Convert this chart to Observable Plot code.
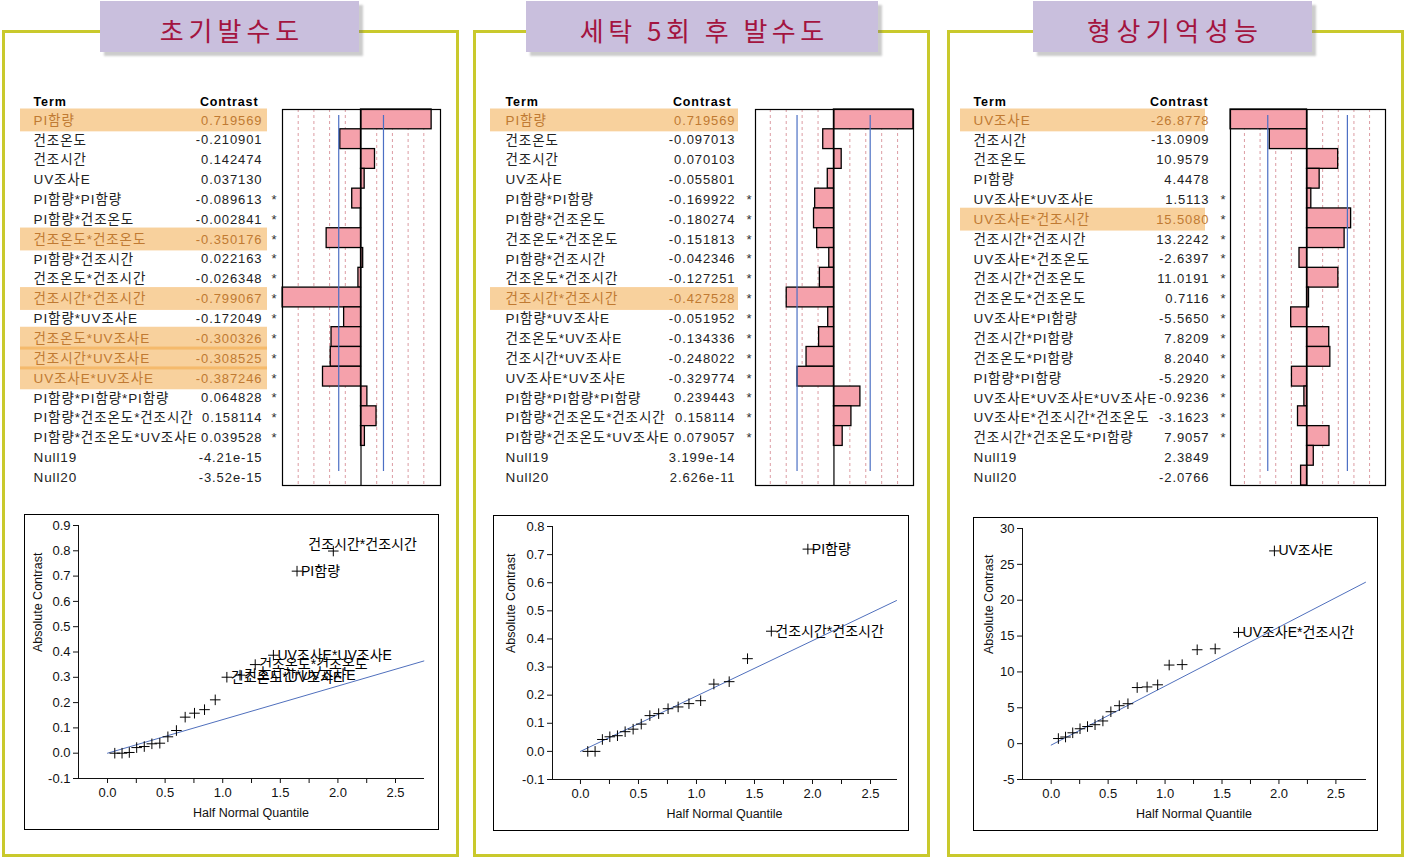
<!DOCTYPE html>
<html><head><meta charset="utf-8">
<script src="https://cdn.jsdelivr.net/npm/d3@7"></script>
<script src="https://cdn.jsdelivr.net/npm/@observablehq/plot@0.6"></script>
<style>
body{margin:0;background:#fff;}
#root{position:relative;width:1404px;height:859px;overflow:hidden;font-family:'Liberation Sans','Noto Sans CJK KR',sans-serif;}
.panel{position:absolute;top:30px;width:457px;height:827px;border:3px solid #c9c92c;box-sizing:border-box;}
.title{position:absolute;top:1px;height:51px;box-sizing:border-box;padding-top:6px;background:#c9bfdd;box-shadow:4px 4px 2px rgba(110,110,110,0.35);display:flex;align-items:center;justify-content:center;color:#a3143f;font-family:'Noto Sans CJK KR',sans-serif;font-size:26px;}
.box{position:absolute;border:1px solid #000;background:#fff;}
</style></head><body><div id="root"></div>
<script>
// ---------------- DATA ----------------
const titles = ["초기발수도", "세탁 5회 후 발수도", "형상기억성능"];

const terms1 = ["PI함량","건조온도","건조시간","UV조사E","PI함량*PI함량","PI함량*건조온도","건조온도*건조온도","PI함량*건조시간","건조온도*건조시간","건조시간*건조시간","PI함량*UV조사E","건조온도*UV조사E","건조시간*UV조사E","UV조사E*UV조사E","PI함량*PI함량*PI함량","PI함량*건조온도*건조시간","PI함량*건조온도*UV조사E","Null19","Null20"];
const contrasts1 = ["0.719569","-0.210901","0.142474","0.037130","-0.089613","-0.002841","-0.350176","0.022163","-0.026348","-0.799067","-0.172049","-0.300326","-0.308525","-0.387246","0.064828","0.158114","0.039528","-4.21e-15","-3.52e-15"];
const highlight1 = ["PI함량","건조온도*건조온도","건조시간*건조시간","건조온도*UV조사E","건조시간*UV조사E","UV조사E*UV조사E"];

const terms2 = ["PI함량","건조온도","건조시간","UV조사E","PI함량*PI함량","PI함량*건조온도","건조온도*건조온도","PI함량*건조시간","건조온도*건조시간","건조시간*건조시간","PI함량*UV조사E","건조온도*UV조사E","건조시간*UV조사E","UV조사E*UV조사E","PI함량*PI함량*PI함량","PI함량*건조온도*건조시간","PI함량*건조온도*UV조사E","Null19","Null20"];
const contrasts2 = ["0.719569","-0.097013","0.070103","-0.055801","-0.169922","-0.180274","-0.151813","-0.042346","-0.127251","-0.427528","-0.051952","-0.134336","-0.248022","-0.329774","0.239443","0.158114","0.079057","3.199e-14","2.626e-11"];
const highlight2 = ["PI함량","건조시간*건조시간"];

const terms3 = ["UV조사E","건조시간","건조온도","PI함량","UV조사E*UV조사E","UV조사E*건조시간","건조시간*건조시간","UV조사E*건조온도","건조시간*건조온도","건조온도*건조온도","UV조사E*PI함량","건조시간*PI함량","건조온도*PI함량","PI함량*PI함량","UV조사E*UV조사E*UV조사E","UV조사E*건조시간*건조온도","건조시간*건조온도*PI함량","Null19","Null20"];
const contrasts3 = ["-26.8778","-13.0909","10.9579","4.4478","1.5113","15.5080","13.2242","-2.6397","11.0191","0.7116","-5.5650","7.8209","8.2040","-5.2920","-0.9236","-3.1623","7.9057","2.3849","-2.0766"];
const highlight3 = ["UV조사E","UV조사E*건조시간"];

// bar chart reference lines
const barDomain1 = [-0.80, 0.81], barDomain2 = [-0.71, 0.72], barDomain3 = [-26.9, 27.6];
const dashLines1 = [-0.64,-0.48,-0.32,-0.16,0.16,0.32,0.48,0.64];
const dashLines2 = [-0.576,-0.432,-0.288,-0.144,0.144,0.288,0.432,0.576];
const dashLines3 = [-22,-16.5,-11,-5.5,5.5,11,16.5,22];
const blueLines1 = [-0.227, 0.229], blueLines2 = [-0.334, 0.328], blueLines3 = [-13.8, 14.2];

// half-normal plot
const halfNormalQ = [0.063,0.126,0.189,0.253,0.319,0.385,0.454,0.524,0.598,0.674,0.755,0.842,0.935,1.036,1.150,1.282,1.440,1.645,1.960];
const fitLine1 = [[0,0],[2.746,0.3645]];
const fitLine2 = [[0,0],[2.724,0.5365]];
const fitLine3 = [[0,-0.2],[2.76,22.5]];
const xTicks = [0,0.25,0.5,0.75,1,1.25,1.5,1.75,2,2.25,2.5];
const yTicks1 = [-0.1,0,0.1,0.2,0.3,0.4,0.5,0.6,0.7,0.8,0.9];
const yTicks2 = [-0.1,0,0.1,0.2,0.3,0.4,0.5,0.6,0.7,0.8];
const yTicks3 = [-5,0,5,10,15,20,25,30];

// ---------------- LAYOUT ----------------
const FONT = "'Liberation Sans','Noto Sans CJK KR',sans-serif";
const HI_TEXT = "#c07a32";
const panels = [
  {left:2, title:{left:100,width:259,spacing:5},
   table:{left:20,hlRight:267,width:264,termDx:13,numDx:-5,starDx:7,headDx:-9},
   bar:{left:281,width:160},
   sc:{box:[24,514,415,316], mL:53,mR:15,mT:10,mB:51, xDomain:[-0.252,2.743], yLab:41},
   labelShift:{"건조시간*건조시간":[-25,-7]}},
  {left:473, title:{left:526,width:352,spacing:4.5},
   table:{left:490,hlRight:738,width:270,termDx:15,numDx:-3,starDx:11,headDx:-7},
   bar:{left:754,width:160},
   sc:{box:[493,515,416,316], mL:58,mR:12,mT:10,mB:51, xDomain:[-0.241,2.724], yLab:42},
   labelShift:{}},
  {left:947, title:{left:1033,width:279,spacing:5.5},
   table:{left:960,hlRight:1205,width:272,termDx:13,numDx:4,starDx:18,headDx:3},
   bar:{left:1229,width:157},
   sc:{box:[973,517,405,314], mL:48,mR:12,mT:10,mB:51, xDomain:[-0.252,2.76], yLab:34},
   labelShift:{}}
];

const root = document.getElementById("root");
function place(el, left, top) {
  el.style.position = "absolute";
  el.style.left = left + "px";
  el.style.top = top + "px";
  root.appendChild(el);
  return el;
}

function tablePlot(T, terms, contrasts, highlight) {
  const rows = terms.map((t,i)=>({term:t, c:contrasts[i], star:t.includes("*")?"*":"", hi:highlight.includes(t)}));
  const hi = rows.filter(d=>d.hi), lo = rows.filter(d=>!d.hi);
  const innerW = T.hlRight - T.left;
  const termOpts = {y:"term", text:"term", frameAnchor:"left", textAnchor:"start", dx:T.termDx, fontSize:13.5};
  const numOpts = {y:"term", text:"c", frameAnchor:"right", textAnchor:"end", dx:T.numDx, fontSize:13};
  return Plot.plot({
    width:T.width, height:397, marginTop:20, marginBottom:0, marginLeft:0, marginRight:T.width-innerW,
    x:{domain:[0,1], axis:null},
    y:{domain:terms, axis:null, padding:0, round:false},
    style:{background:"transparent", fontFamily:FONT, overflow:"visible", letterSpacing:"0.9px"},
    marks:[
      Plot.barX(hi, {x1:0, x2:1, y:"term", fill:"#f2a43c", fillOpacity:0.5, insetTop:-1.5, insetBottom:-1.5}),
      Plot.text(lo, {...termOpts, fill:"#222"}),
      Plot.text(hi, {...termOpts, fill:HI_TEXT}),
      Plot.text(lo, {...numOpts, fill:"#222"}),
      Plot.text(hi, {...numOpts, fill:HI_TEXT}),
      Plot.text(rows.filter(d=>d.star), {y:"term", text:"star", frameAnchor:"right", textAnchor:"middle", dx:T.starDx, fontSize:13, fill:"#333"}),
      Plot.text(["Term"], {text:d=>d, frameAnchor:"top-left", textAnchor:"start", dx:T.termDx, dy:-13, fontWeight:"bold", fontSize:12.5, fill:"#000"}),
      Plot.text(["Contrast"], {text:d=>d, frameAnchor:"top-right", textAnchor:"end", dx:T.headDx, dy:-13, fontWeight:"bold", fontSize:12.5, fill:"#000"})
    ]
  });
}

function barPlot(B, terms, contrasts, domain, dashes, blues) {
  const rows = terms.map((t,i)=>({term:t, v:+contrasts[i]}));
  return Plot.plot({
    width:B.width, height:378, margin:1,
    x:{domain, axis:null},
    y:{domain:terms, axis:null, padding:0, round:false},
    style:{background:"transparent", overflow:"visible"},
    marks:[
      Plot.ruleX(dashes, {stroke:"#dc9ca3", strokeDasharray:"3,3", strokeWidth:1}),
      Plot.barX(rows, {x1:0, x2:"v", y:"term", fill:"#f5a1ab", stroke:"#000", strokeWidth:1.3}),
      Plot.ruleX(blues, {stroke:"#4b6fc4", strokeWidth:1.2, insetTop:6, insetBottom:14}),
      Plot.ruleX([0], {stroke:"#000", strokeWidth:1.2}),
      Plot.frame({stroke:"#000", strokeWidth:1.2})
    ]
  });
}

function scatterPlot(P, terms, contrasts, highlight, yTicks, yFmt, fit) {
  const S = P.sc;
  const pts = terms.map((t,i)=>({term:t, abs:Math.abs(+contrasts[i])}))
    .sort((a,b)=>a.abs-b.abs)
    .map((d,i)=>({...d, q:halfNormalQ[i]}));
  const labeled = pts.filter(d=>highlight.includes(d.term));
  const labelMarks = labeled.map(d=>{
    const s = P.labelShift[d.term] || [4,0];
    return Plot.text([d], {x:"q", y:"abs", text:"term", textAnchor:"start", dx:s[0], dy:s[1], fontSize:14, fill:"#000", clip:true});
  });
  const svg = Plot.plot({
    width:S.box[2]-2, height:S.box[3]-2,
    marginLeft:S.mL, marginRight:S.mR, marginTop:S.mT, marginBottom:S.mB,
    style:{background:"transparent", fontFamily:FONT, fontSize:"13px", color:"#111", overflow:"visible"},
    x:{domain:S.xDomain, ticks:xTicks, tickFormat:d=>(Math.round(d*100)%50===0 ? d.toFixed(1) : ""), tickSize:5, tickPadding:4, line:true, label:null},
    y:{domain:[yTicks[0], yTicks[yTicks.length-1]], ticks:yTicks, tickFormat:yFmt, tickSize:5, tickPadding:3, line:true, label:null},
    marks:[
      Plot.line(fit, {x:d=>d[0], y:d=>d[1], stroke:"#5070bd", strokeWidth:1}),
      Plot.dot(pts, {x:"q", y:"abs", symbol:"plus", r:3.5, stroke:"#000", strokeWidth:1}),
      ...labelMarks,
      Plot.text(["Absolute Contrast"], {text:d=>d, frameAnchor:"left", dx:-S.yLab, rotate:-90, fontSize:12.5, fill:"#111"}),
      Plot.text(["Half Normal Quantile"], {text:d=>d, frameAnchor:"bottom", dy:38, fontSize:12.5, fill:"#111"})
    ]
  });
  svg.querySelectorAll("g[aria-label^='x-axis'] text, g[aria-label^='y-axis'] text").forEach(t => {
    t.style.fontSize = "13px";
    t.style.fontFamily = FONT;
  });
  const box = document.createElement("div");
  box.className = "box";
  box.style.width = (S.box[2]-2) + "px";
  box.style.height = (S.box[3]-2) + "px";
  box.appendChild(svg);
  svg.style.display = "block";
  place(box, S.box[0], S.box[1]);
}

const datasets = [
  {terms:terms1, contrasts:contrasts1, highlight:highlight1, domain:barDomain1, dashes:dashLines1, blues:blueLines1, yTicks:yTicks1, yFmt:d=>d.toFixed(1), fit:fitLine1},
  {terms:terms2, contrasts:contrasts2, highlight:highlight2, domain:barDomain2, dashes:dashLines2, blues:blueLines2, yTicks:yTicks2, yFmt:d=>d.toFixed(1), fit:fitLine2},
  {terms:terms3, contrasts:contrasts3, highlight:highlight3, domain:barDomain3, dashes:dashLines3, blues:blueLines3, yTicks:yTicks3, yFmt:d=>String(d), fit:fitLine3}
];

panels.forEach((P, k) => {
  const D = datasets[k];
  const frame = document.createElement("div");
  frame.className = "panel";
  place(frame, P.left, 30);

  const t = document.createElement("div");
  t.className = "title";
  t.style.width = P.title.width + "px";
  t.style.letterSpacing = P.title.spacing + "px";
  t.style.paddingLeft = P.title.spacing + "px";
  t.textContent = titles[k];
  place(t, P.title.left, 1);

  place(tablePlot(P.table, D.terms, D.contrasts, D.highlight), P.table.left, 90);
  place(barPlot(P.bar, D.terms, D.contrasts, D.domain, D.dashes, D.blues), P.bar.left, 108);
  scatterPlot(P, D.terms, D.contrasts, D.highlight, D.yTicks, D.yFmt, D.fit);
});
</script>
</body></html>
